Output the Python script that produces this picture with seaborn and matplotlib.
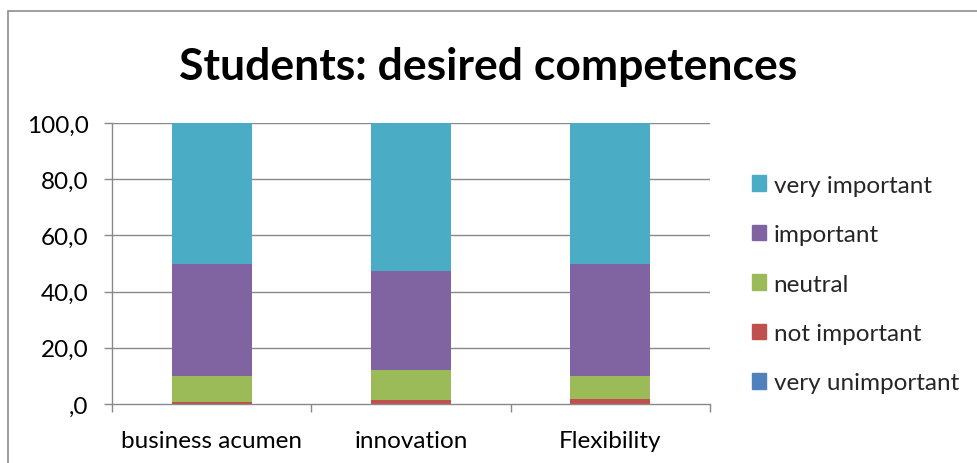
import matplotlib
matplotlib.use("Agg")
import matplotlib.pyplot as plt
import matplotlib.patches as mpatches
import seaborn as sns
import pandas as pd

# Survey shares (%) per competence, stacked bottom to top
categories = ["business acumen", "innovation", "Flexibility"]
very_unimportant = [0.0, 0.0, 0.0]
not_important = [0.8, 1.4, 1.9]
neutral = [9.2, 10.6, 8.1]
important = [40.0, 35.5, 40.0]
very_important = [50.0, 52.5, 50.0]

series_names = ["very unimportant", "not important", "neutral", "important", "very important"]
series_values = [very_unimportant, not_important, neutral, important, very_important]
series_colors = ["#4F81BD", "#C0504D", "#9BBB59", "#8064A2", "#4BACC6"]

y_ticks = [0, 20, 40, 60, 80, 100]
y_tick_labels = [",0", "20,0", "40,0", "60,0", "80,0", "100,0"]

sns.set_theme(style="white")
plt.rcParams["font.family"] = ["Lato", "DejaVu Sans"]

fig = plt.figure(figsize=(9.77, 4.64), dpi=100)
ax = fig.add_axes([112 / 977, 1 - 405 / 464, (710 - 112) / 977, (405 - 124) / 464])

grid_color = "#898989"
for y in y_ticks[1:]:
    ax.axhline(y, color=grid_color, lw=1.0, zorder=0)

bottom = [0.0] * len(categories)
for name, vals, col in zip(series_names, series_values, series_colors):
    df = pd.DataFrame({"category": categories, "value": vals})
    sns.barplot(data=df, x="category", y="value", color=col, width=0.4,
                bottom=bottom, ax=ax, saturation=1, zorder=2, linewidth=0)
    bottom = [b + v for b, v in zip(bottom, vals)]

ax.set_ylim(0, 100)
ax.set_xlim(-0.5, len(categories) - 0.5)
ax.set_xlabel("")
ax.set_ylabel("")
ax.set_yticks(y_ticks)
ax.set_yticklabels(y_tick_labels)
ax.set_xticks(range(len(categories)))
ax.set_xticklabels(categories)

for side in ["top", "right"]:
    ax.spines[side].set_visible(False)
for side in ["left", "bottom"]:
    ax.spines[side].set_color(grid_color)
    ax.spines[side].set_linewidth(1.0)

label_size = 17.5
ax.tick_params(axis="y", which="major", left=True, length=5.8, width=1.0,
               color=grid_color, labelsize=label_size, pad=11, labelcolor="black")
ax.tick_params(axis="x", which="major", bottom=False, labelsize=label_size, pad=13,
               labelcolor="black")
# boundary ticks between categories
ax.set_xticks([-0.5, 0.5, 1.5, 2.5], minor=True)
ax.tick_params(axis="x", which="minor", bottom=True, length=5.8, width=1.0,
               color=grid_color, direction="out")

fig.text(0.5, 1 - 67 / 464, "Students: desired competences", ha="center", va="center",
         fontsize=32, fontweight="bold", color="black")

handles = [mpatches.Patch(color=c, label=n) for n, c in zip(series_names, series_colors)][::-1]
fig.legend(handles=handles, loc="upper left", bbox_to_anchor=(742 / 977, 1 - 166 / 464),
           frameon=False, fontsize=label_size, handlelength=0.6, handleheight=0.6,
           handletextpad=0.3, labelspacing=1.17, borderaxespad=0)

# chart-area border
fig.patches.append(mpatches.Rectangle((8 / 977, -0.05), 1.2, 1 - 12 / 464 + 0.05,
                                      transform=fig.transFigure, fill=False,
                                      edgecolor="#8C8C8C", lw=1.2))

fig.savefig("out.png", dpi=100)
